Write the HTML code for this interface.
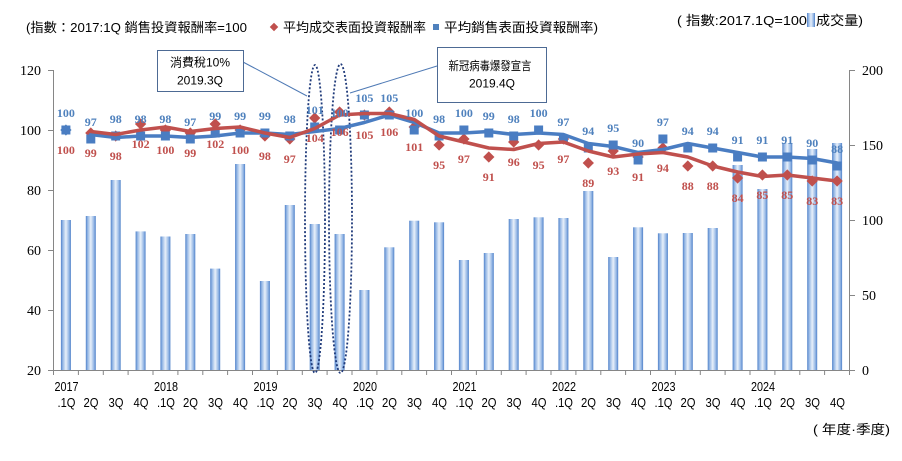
<!DOCTYPE html>
<html><head><meta charset="utf-8"><style>
html,body{margin:0;padding:0;background:#fff;}
svg{display:block;}
.t{font-family:"Liberation Sans","Noto Sans CJK TC",sans-serif;fill:#000;}
.ax{font-family:"Liberation Serif",serif;font-size:14px;fill:#000;}
.xl{font-family:"Liberation Sans",sans-serif;font-size:13px;fill:#000;text-anchor:middle;}
.bl{font-family:"Liberation Serif",serif;font-size:12px;font-weight:bold;fill:#4f81bd;text-anchor:middle;}
.rl{font-family:"Liberation Serif",serif;font-size:12px;font-weight:bold;fill:#c0504d;text-anchor:middle;}
</style></head><body>
<svg width="902" height="461" viewBox="0 0 902 461" xmlns="http://www.w3.org/2000/svg">
<defs>
<linearGradient id="bg" x1="0" y1="0" x2="1" y2="0">
<stop offset="0" stop-color="#4f81c9"/><stop offset="0.18" stop-color="#92b5e4"/><stop offset="0.5" stop-color="#e8f0fa"/><stop offset="0.82" stop-color="#92b5e4"/><stop offset="1" stop-color="#4f81c9"/>
</linearGradient>
</defs>
<rect width="902" height="461" fill="#fff"/>

<!-- title -->
<text class="t" x="26" y="32" font-size="13" textLength="221" lengthAdjust="spacingAndGlyphs">(指數：2017:1Q 銷售投資報酬率=100</text>
<rect x="-3" y="-3" width="6" height="6" fill="#c0504d" transform="translate(274,27) rotate(45)"/>
<text class="t" x="283" y="32" font-size="13" textLength="143" lengthAdjust="spacingAndGlyphs">平均成交表面投資報酬率</text>
<rect x="433" y="24" width="6" height="6" fill="#4f81bd"/>
<text class="t" x="444" y="32" font-size="13" textLength="154" lengthAdjust="spacingAndGlyphs">平均銷售表面投資報酬率)</text>

<text class="t" x="677" y="25" font-size="13" textLength="130" lengthAdjust="spacingAndGlyphs">( 指數:2017.1Q=100</text>
<rect x="807" y="13" width="8" height="14" fill="url(#bg)"/>
<text class="t" x="816" y="25" font-size="13" textLength="47" lengthAdjust="spacingAndGlyphs">成交量)</text>

<text class="t" x="813" y="434" font-size="13" textLength="77" lengthAdjust="spacingAndGlyphs">( 年度·季度)</text>

<!-- bars -->
<g fill="url(#bg)">
<rect x="60.9" y="220" width="10" height="150"/>
<rect x="85.8" y="216" width="10" height="154"/>
<rect x="110.7" y="180" width="10" height="190"/>
<rect x="135.6" y="231.4" width="10" height="138.6"/>
<rect x="160.4" y="236.5" width="10" height="133.5"/>
<rect x="185.3" y="234" width="10" height="136"/>
<rect x="210.2" y="268.6" width="10" height="101.4"/>
<rect x="235.1" y="164" width="10" height="206"/>
<rect x="259.9" y="281" width="10" height="89"/>
<rect x="284.8" y="205" width="10" height="165"/>
<rect x="309.7" y="224" width="10" height="146"/>
<rect x="334.6" y="234" width="10" height="136"/>
<rect x="359.4" y="290" width="10" height="80"/>
<rect x="384.3" y="247.3" width="10" height="122.7"/>
<rect x="409.2" y="220.7" width="10" height="149.3"/>
<rect x="434.1" y="222.3" width="10" height="147.7"/>
<rect x="458.9" y="260" width="10" height="110"/>
<rect x="483.8" y="253" width="10" height="117"/>
<rect x="508.7" y="219" width="10" height="151"/>
<rect x="533.6" y="217.3" width="10" height="152.7"/>
<rect x="558.4" y="218" width="10" height="152"/>
<rect x="583.3" y="191" width="10" height="179"/>
<rect x="608.2" y="257" width="10" height="113"/>
<rect x="633.1" y="227.3" width="10" height="142.7"/>
<rect x="657.9" y="233.3" width="10" height="136.7"/>
<rect x="682.8" y="233" width="10" height="137"/>
<rect x="707.7" y="228" width="10" height="142"/>
<rect x="732.6" y="165" width="10" height="205"/>
<rect x="757.4" y="189" width="10" height="181"/>
<rect x="782.3" y="143" width="10" height="227"/>
<rect x="807.2" y="149" width="10" height="221"/>
<rect x="832.1" y="143" width="10" height="227"/>
</g>

<!-- axes -->
<g stroke="#868686" stroke-width="1" fill="none">
<path d="M53.5 70V370.5M48 70.5H53.5M48 130.5H53.5M48 190.5H53.5M48 250.5H53.5M48 310.5H53.5M48 370.5H53.5"/>
<path d="M849.5 70V370.5M849.5 70.5H855M849.5 145.5H855M849.5 220.5H855M849.5 295.5H855M849.5 370.5H855"/>
<path d="M53.5 370.5H849.5"/>
<path d="M53.5 370v5M78.4 370v5M103.3 370v5M128.1 370v5M153 370v5M177.9 370v5M202.8 370v5M227.6 370v5M252.5 370v5M277.4 370v5M302.3 370v5M327.1 370v5M352 370v5M376.9 370v5M401.8 370v5M426.6 370v5M451.5 370v5M476.4 370v5M501.3 370v5M526.1 370v5M551 370v5M575.9 370v5M600.8 370v5M625.6 370v5M650.5 370v5M675.4 370v5M700.3 370v5M725.1 370v5M750 370v5M774.9 370v5M799.8 370v5M824.6 370v5M849.5 370v5"/>
</g>

<g class="ax" text-anchor="end">
<text x="41" y="75">120</text><text x="41" y="135">100</text><text x="41" y="195">80</text><text x="41" y="255">60</text><text x="41" y="315">40</text><text x="41" y="375">20</text>
</g>
<g class="ax">
<text x="862" y="75">200</text><text x="862" y="150">150</text><text x="862" y="225">100</text><text x="862" y="300">50</text><text x="862" y="375">0</text>
</g>

<!-- x labels -->
<g class="xl">
<text x="66.5" y="391" textLength="24" lengthAdjust="spacingAndGlyphs">2017</text>
<text x="166" y="391" textLength="24" lengthAdjust="spacingAndGlyphs">2018</text>
<text x="265.5" y="391" textLength="24" lengthAdjust="spacingAndGlyphs">2019</text>
<text x="365" y="391" textLength="24" lengthAdjust="spacingAndGlyphs">2020</text>
<text x="464.5" y="391" textLength="24" lengthAdjust="spacingAndGlyphs">2021</text>
<text x="564" y="391" textLength="24" lengthAdjust="spacingAndGlyphs">2022</text>
<text x="663.5" y="391" textLength="24" lengthAdjust="spacingAndGlyphs">2023</text>
<text x="763" y="391" textLength="24" lengthAdjust="spacingAndGlyphs">2024</text>
</g>
<g class="xl">
<text x="66.5" y="407" textLength="18" lengthAdjust="spacingAndGlyphs">.1Q</text>
<text x="91" y="407" textLength="15" lengthAdjust="spacingAndGlyphs">2Q</text>
<text x="116" y="407" textLength="15" lengthAdjust="spacingAndGlyphs">3Q</text>
<text x="141" y="407" textLength="15" lengthAdjust="spacingAndGlyphs">4Q</text>
<text x="166" y="407" textLength="18" lengthAdjust="spacingAndGlyphs">.1Q</text>
<text x="190.5" y="407" textLength="15" lengthAdjust="spacingAndGlyphs">2Q</text>
<text x="215.5" y="407" textLength="15" lengthAdjust="spacingAndGlyphs">3Q</text>
<text x="240.5" y="407" textLength="15" lengthAdjust="spacingAndGlyphs">4Q</text>
<text x="265.5" y="407" textLength="18" lengthAdjust="spacingAndGlyphs">.1Q</text>
<text x="290" y="407" textLength="15" lengthAdjust="spacingAndGlyphs">2Q</text>
<text x="315" y="407" textLength="15" lengthAdjust="spacingAndGlyphs">3Q</text>
<text x="340" y="407" textLength="15" lengthAdjust="spacingAndGlyphs">4Q</text>
<text x="365" y="407" textLength="18" lengthAdjust="spacingAndGlyphs">.1Q</text>
<text x="389.5" y="407" textLength="15" lengthAdjust="spacingAndGlyphs">2Q</text>
<text x="414.5" y="407" textLength="15" lengthAdjust="spacingAndGlyphs">3Q</text>
<text x="439.5" y="407" textLength="15" lengthAdjust="spacingAndGlyphs">4Q</text>
<text x="464.5" y="407" textLength="18" lengthAdjust="spacingAndGlyphs">.1Q</text>
<text x="489" y="407" textLength="15" lengthAdjust="spacingAndGlyphs">2Q</text>
<text x="514" y="407" textLength="15" lengthAdjust="spacingAndGlyphs">3Q</text>
<text x="539" y="407" textLength="15" lengthAdjust="spacingAndGlyphs">4Q</text>
<text x="564" y="407" textLength="18" lengthAdjust="spacingAndGlyphs">.1Q</text>
<text x="588.5" y="407" textLength="15" lengthAdjust="spacingAndGlyphs">2Q</text>
<text x="613.5" y="407" textLength="15" lengthAdjust="spacingAndGlyphs">3Q</text>
<text x="638.5" y="407" textLength="15" lengthAdjust="spacingAndGlyphs">4Q</text>
<text x="663.5" y="407" textLength="18" lengthAdjust="spacingAndGlyphs">.1Q</text>
<text x="688" y="407" textLength="15" lengthAdjust="spacingAndGlyphs">2Q</text>
<text x="713" y="407" textLength="15" lengthAdjust="spacingAndGlyphs">3Q</text>
<text x="738" y="407" textLength="15" lengthAdjust="spacingAndGlyphs">4Q</text>
<text x="763" y="407" textLength="18" lengthAdjust="spacingAndGlyphs">.1Q</text>
<text x="787.5" y="407" textLength="15" lengthAdjust="spacingAndGlyphs">2Q</text>
<text x="812.5" y="407" textLength="15" lengthAdjust="spacingAndGlyphs">3Q</text>
<text x="837.5" y="407" textLength="15" lengthAdjust="spacingAndGlyphs">4Q</text>
</g>

<!-- dotted ellipses -->
<g fill="none" stroke="#1f3a7a" stroke-width="1.8" stroke-dasharray="2 2">
<ellipse cx="315" cy="219" rx="10" ry="154"/>
<ellipse cx="340.5" cy="218.5" rx="11.5" ry="154.5"/>
</g>

<!-- red diamonds -->
<g fill="#c0504d">
<rect x="-4" y="-4" width="8" height="8" fill="#4f81bd" transform="translate(65.9,130) rotate(45)"/>
<rect x="-4" y="-4" width="8" height="8" transform="translate(90.8,133) rotate(45)"/>
<rect x="-4" y="-4" width="8" height="8" transform="translate(115.7,136) rotate(45)"/>
<rect x="-4" y="-4" width="8" height="8" transform="translate(140.6,124) rotate(45)"/>
<rect x="-4" y="-4" width="8" height="8" transform="translate(165.4,130) rotate(45)"/>
<rect x="-4" y="-4" width="8" height="8" transform="translate(190.3,133) rotate(45)"/>
<rect x="-4" y="-4" width="8" height="8" transform="translate(215.2,124) rotate(45)"/>
<rect x="-4" y="-4" width="8" height="8" transform="translate(240.1,130) rotate(45)"/>
<rect x="-4" y="-4" width="8" height="8" transform="translate(264.9,136) rotate(45)"/>
<rect x="-4" y="-4" width="8" height="8" transform="translate(289.8,139) rotate(45)"/>
<rect x="-4" y="-4" width="8" height="8" transform="translate(314.7,118) rotate(45)"/>
<rect x="-4" y="-4" width="8" height="8" transform="translate(339.6,112) rotate(45)"/>
<rect x="-4" y="-4" width="8" height="8" transform="translate(364.4,115) rotate(45)"/>
<rect x="-4" y="-4" width="8" height="8" transform="translate(389.3,112) rotate(45)"/>
<rect x="-4" y="-4" width="8" height="8" transform="translate(414.2,127) rotate(45)"/>
<rect x="-4" y="-4" width="8" height="8" transform="translate(439.1,145) rotate(45)"/>
<rect x="-4" y="-4" width="8" height="8" transform="translate(463.9,139) rotate(45)"/>
<rect x="-4" y="-4" width="8" height="8" transform="translate(488.8,157) rotate(45)"/>
<rect x="-4" y="-4" width="8" height="8" transform="translate(513.7,142) rotate(45)"/>
<rect x="-4" y="-4" width="8" height="8" transform="translate(538.6,145) rotate(45)"/>
<rect x="-4" y="-4" width="8" height="8" transform="translate(563.4,139) rotate(45)"/>
<rect x="-4" y="-4" width="8" height="8" transform="translate(588.3,163) rotate(45)"/>
<rect x="-4" y="-4" width="8" height="8" transform="translate(613.2,151) rotate(45)"/>
<rect x="-4" y="-4" width="8" height="8" transform="translate(638.1,157) rotate(45)"/>
<rect x="-4" y="-4" width="8" height="8" transform="translate(662.9,148) rotate(45)"/>
<rect x="-4" y="-4" width="8" height="8" transform="translate(687.8,166) rotate(45)"/>
<rect x="-4" y="-4" width="8" height="8" transform="translate(712.7,166) rotate(45)"/>
<rect x="-4" y="-4" width="8" height="8" transform="translate(737.6,178) rotate(45)"/>
<rect x="-4" y="-4" width="8" height="8" transform="translate(762.4,175) rotate(45)"/>
<rect x="-4" y="-4" width="8" height="8" transform="translate(787.3,175) rotate(45)"/>
<rect x="-4" y="-4" width="8" height="8" transform="translate(812.2,181) rotate(45)"/>
<rect x="-4" y="-4" width="8" height="8" transform="translate(837.1,181) rotate(45)"/>
</g>

<!-- blue squares -->
<g fill="#4a7dc2">
<rect x="61.4" y="125.5" width="9" height="9"/>
<rect x="86.3" y="134.5" width="9" height="9"/>
<rect x="111.2" y="131.5" width="9" height="9"/>
<rect x="136.1" y="131.5" width="9" height="9"/>
<rect x="160.9" y="131.5" width="9" height="9"/>
<rect x="185.8" y="134.5" width="9" height="9"/>
<rect x="210.7" y="128.5" width="9" height="9"/>
<rect x="235.6" y="128.5" width="9" height="9"/>
<rect x="260.4" y="128.5" width="9" height="9"/>
<rect x="285.3" y="131.5" width="9" height="9"/>
<rect x="310.2" y="122.5" width="9" height="9"/>
<rect x="335.1" y="125.5" width="9" height="9"/>
<rect x="359.9" y="110.5" width="9" height="9"/>
<rect x="384.8" y="110.5" width="9" height="9"/>
<rect x="409.7" y="125.5" width="9" height="9"/>
<rect x="434.6" y="131.5" width="9" height="9"/>
<rect x="459.4" y="125.5" width="9" height="9"/>
<rect x="484.3" y="128.5" width="9" height="9"/>
<rect x="509.2" y="131.5" width="9" height="9"/>
<rect x="534.1" y="125.5" width="9" height="9"/>
<rect x="558.9" y="134.5" width="9" height="9"/>
<rect x="583.8" y="143.5" width="9" height="9"/>
<rect x="608.7" y="140.5" width="9" height="9"/>
<rect x="633.6" y="155.5" width="9" height="9"/>
<rect x="658.4" y="134.5" width="9" height="9"/>
<rect x="683.3" y="143.5" width="9" height="9"/>
<rect x="708.2" y="143.5" width="9" height="9"/>
<rect x="733.1" y="152.5" width="9" height="9"/>
<rect x="757.9" y="152.5" width="9" height="9"/>
<rect x="782.8" y="152.5" width="9" height="9"/>
<rect x="807.7" y="155.5" width="9" height="9"/>
<rect x="832.6" y="161.5" width="9" height="9"/>
</g>

<!-- moving average lines -->
<polyline fill="none" stroke="#4a7dc2" stroke-width="3.5" stroke-linejoin="round" stroke-linecap="round" points="90.8,134.5 115.7,137.5 140.6,136 165.4,136 190.3,137.5 215.2,136 240.1,133 264.9,133 289.8,134.5 314.7,131.5 339.6,128.5 364.4,122.5 389.3,115 414.2,122.5 439.1,133 463.9,133 488.8,131.5 513.7,134.5 538.6,133 563.4,134.5 588.3,143.5 613.2,146.5 638.1,152.5 662.9,149.5 687.8,143.5 712.7,148 737.6,152.5 762.4,157 787.3,157 812.2,158.5 837.1,163"/>
<polyline fill="none" stroke="#c0504d" stroke-width="3.5" stroke-linejoin="round" stroke-linecap="round" points="90.8,131.5 115.7,134.5 140.6,130 165.4,127 190.3,131.5 215.2,128.5 240.1,127 264.9,133 289.8,137.5 314.7,128.5 339.6,115 364.4,113.5 389.3,113.5 414.2,119.5 439.1,136 463.9,142 488.8,148 513.7,149.5 538.6,143.5 563.4,142 588.3,151 613.2,157 638.1,154 662.9,152.5 687.8,157 712.7,166 737.6,172 762.4,176.5 787.3,175 812.2,178 837.1,181"/>

<!-- blue labels -->
<g class="bl">
<text x="65.9" y="117">100</text><text x="90.8" y="126">97</text><text x="115.7" y="123">98</text><text x="140.6" y="123">98</text>
<text x="165.4" y="123">98</text><text x="190.3" y="126">97</text><text x="215.2" y="120">99</text><text x="240.1" y="120">99</text>
<text x="264.9" y="120">99</text><text x="289.8" y="123">98</text><text x="314.7" y="114">101</text><text x="339.6" y="117">100</text>
<text x="364.4" y="102">105</text><text x="389.3" y="102">105</text><text x="414.2" y="117">100</text><text x="439.1" y="123">98</text>
<text x="463.9" y="117">100</text><text x="488.8" y="120">99</text><text x="513.7" y="123">98</text><text x="538.6" y="117">100</text>
<text x="563.4" y="126">97</text><text x="588.3" y="135">94</text><text x="613.2" y="132">95</text><text x="638.1" y="147">90</text>
<text x="662.9" y="126">97</text><text x="687.8" y="135">94</text><text x="712.7" y="135">94</text><text x="737.6" y="144">91</text>
<text x="762.4" y="144">91</text><text x="787.3" y="144">91</text><text x="812.2" y="147">90</text><text x="837.1" y="153">88</text>
</g>
<!-- red labels -->
<g class="rl">
<text x="65.9" y="154">100</text><text x="90.8" y="157">99</text><text x="115.7" y="160">98</text><text x="140.6" y="148">102</text>
<text x="165.4" y="154">100</text><text x="190.3" y="157">99</text><text x="215.2" y="148">102</text><text x="240.1" y="154">100</text>
<text x="264.9" y="160">98</text><text x="289.8" y="163">97</text><text x="314.7" y="142">104</text><text x="339.6" y="136">106</text>
<text x="364.4" y="139">105</text><text x="389.3" y="136">106</text><text x="414.2" y="151">101</text><text x="439.1" y="169">95</text>
<text x="463.9" y="163">97</text><text x="488.8" y="181">91</text><text x="513.7" y="166">96</text><text x="538.6" y="169">95</text>
<text x="563.4" y="163">97</text><text x="588.3" y="187">89</text><text x="613.2" y="175">93</text><text x="638.1" y="181">91</text>
<text x="662.9" y="172">94</text><text x="687.8" y="190">88</text><text x="712.7" y="190">88</text><text x="737.6" y="202">84</text>
<text x="762.4" y="199">85</text><text x="787.3" y="199">85</text><text x="812.2" y="205">83</text><text x="837.1" y="205">83</text>
</g>

<!-- callouts -->
<g stroke="#4f7ab5" stroke-width="1" fill="none">
<path d="M243 62L307 96"/>
<path d="M437 66L350 93"/>
</g>
<rect x="157.5" y="50.5" width="86" height="41" fill="#fff" stroke="#4d6a94" stroke-width="1"/>
<text class="t" x="200" y="66.5" font-size="12" text-anchor="middle">消費稅10%</text>
<text class="t" x="200" y="84.5" font-size="12" text-anchor="middle">2019.3Q</text>
<rect x="437.5" y="47.5" width="109" height="55" fill="#fff" stroke="#4d6a94" stroke-width="1"/>
<text class="t" x="490" y="70" font-size="12" text-anchor="middle" textLength="83" lengthAdjust="spacingAndGlyphs">新冠病毒爆發宣言</text>
<text class="t" x="492" y="87.5" font-size="12" text-anchor="middle">2019.4Q</text>
</svg>
</body></html>
